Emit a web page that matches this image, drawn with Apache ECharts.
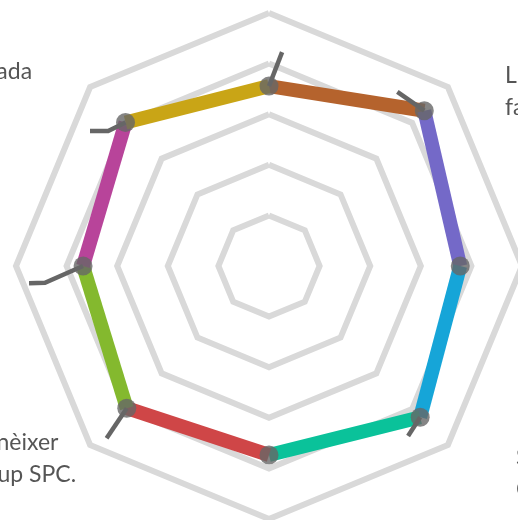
<!DOCTYPE html>
<html><head><meta charset="utf-8">
<script src="https://cdn.jsdelivr.net/npm/echarts@6/dist/echarts.min.js"></script>
<style>html,body{margin:0;padding:0;background:#fff}#c{width:518px;height:520px}</style>
</head><body><div id="c"></div>
<script>
// Categories clockwise from the top axis (only the visible parts of the labels are known)
const categories = ['', 'L\nfa', '', 'E\nS\nC', '', 'nèixer   \nup SPC.', '', 'ada'];
const angles = [0, 45, 90, 135, 180, 225, 270, 315];
const values = [71.1, 86.8, 75.6, 84.5, 74.7, 79.5, 73.5, 80.2];
const segmentColors = ['#b5632d', '#7469c8', '#16a5d8', '#0ac29a', '#cf4647', '#84b92e', '#b8449a', '#c9a516'];
// guide lines leaving each point: [value, angle]
const guideBend = [[84.7, 3.5], [85.5, 36.4], null, [86.8, 140.7], null, [93.6, 223.3], [88.8, 265.7], [83.0, 310.0]];
const guideEnd = [null, null, null, null, null, null, [95.1, 265.9], [88.6, 307.0]];
const maxValue = 100;
const ringCount = 5;

const CENTER = [269, 266], RADIUS = 253;
const labelLayout = {
  1: { align: 'left', offset: [57, 4] },
  3: { align: 'left', offset: [68, 13] },
  5: { align: 'right', offset: [-14, 14] },
  7: { align: 'right', offset: [-58, -16] }
};

const chart = echarts.init(document.getElementById('c'), null, { renderer: 'canvas' });
const series = [];
values.forEach((v, i) => {
  const j = (i + 1) % values.length;
  series.push({
    type: 'line', coordinateSystem: 'polar', polarIndex: 0, silent: true,
    symbol: 'none', z: 3,
    lineStyle: { color: segmentColors[i], width: 14, cap: 'butt' },
    data: [[v, angles[i]], [values[j], angles[i] + 45]]
  });
});
values.forEach((v, i) => {
  if (!guideBend[i]) return;
  const pts = [[v, angles[i]], guideBend[i]];
  if (guideEnd[i]) pts.push(guideEnd[i]);
  series.push({
    type: 'line', coordinateSystem: 'polar', silent: true, symbol: 'none', z: 4,
    lineStyle: { color: '#666666', width: 4.5, join: 'miter' },
    data: pts
  });
});
series.push({
  type: 'scatter', coordinateSystem: 'polar', silent: true, z: 5,
  symbol: 'circle', symbolSize: 19,
  itemStyle: { color: '#666666' },
  data: values.map((v, i) => [v, angles[i]])
});
series.push({
  type: 'scatter', coordinateSystem: 'polar', silent: true, z: 6,
  symbolSize: 1, itemStyle: { color: 'rgba(0,0,0,0)' },
  data: categories.map((c, i) => {
    const lay = labelLayout[i] || { align: 'center', offset: [0, 0] };
    return {
      value: [maxValue, angles[i]], name: c,
      label: {
        show: true, position: 'inside', formatter: c,
        align: lay.align, verticalAlign: 'middle', offset: lay.offset,
        color: '#2b2b2b', fontSize: 23, lineHeight: 32, fontFamily: 'Lato'
      }
    };
  })
});

chart.setOption({
  animation: false,
  backgroundColor: '#ffffff',
  radar: {
    center: CENTER, radius: RADIUS, startAngle: 90, shape: 'polygon',
    splitNumber: ringCount,
    indicator: categories.map(() => ({ name: '', max: maxValue, min: 0 })),
    axisName: { show: false },
    axisLine: { show: false }, axisTick: { show: false }, axisLabel: { show: false },
    splitArea: { show: false },
    splitLine: { lineStyle: { color: '#d9d9d9', width: 6 } }
  },
  polar: { center: CENTER, radius: RADIUS },
  angleAxis: { type: 'value', min: 0, max: 360, startAngle: 90, clockwise: true, show: false },
  radiusAxis: { type: 'value', min: 0, max: maxValue, show: false },
  series: series
});
</script></body></html>
